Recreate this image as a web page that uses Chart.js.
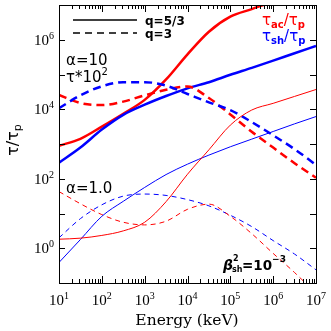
<!DOCTYPE html>
<html>
<head>
<meta charset="utf-8">
<script src="https://cdn.jsdelivr.net/npm/chart.js@4.4.1/dist/chart.umd.min.js"></script>
<style>
  html, body { margin: 0; padding: 0; background: #fff; }
</style>
</head>
<body>
<canvas id="chart" width="331" height="331"></canvas>
<script>
// energies in keV (half-decade grid)
const energy = [10, 31.6, 100, 316, 1000, 3160, 1e4, 3.16e4, 1e5, 3.16e5, 1e6, 3.16e6, 1e7];

// alpha = 10 (times 1e2)
const acc10Solid = [8.9e2, 1.41e3, 3.16e3, 7.4e3, 1.86e4, 7.2e4, 3.8e5, 1.7e6, 4.6e6, 7.6e6, 1.26e7, 2.0e7, 3.2e7];
const sh10Solid = [2.9e2, 7.9e2, 2.6e3, 6.9e3, 1.35e4, 2.4e4, 4.0e4, 6.0e4, 9.8e4, 1.55e5, 2.5e5, 4.1e5, 6.6e5];
const acc10Dash = [2.57e4, 1.51e4, 1.32e4, 1.66e4, 2.51e4, 3.63e4, 4.5e4, 2.1e4, 7.1e3, 2.24e3, 7.9e2, 2.8e2, 1.07e2];
const sh10Dash = [1.07e4, 2.51e4, 4.57e4, 6.03e4, 6.03e4, 4.79e4, 2.75e4, 1.58e4, 9.5e3, 4.27e3, 1.78e3, 7.1e2, 2.5e2];

// alpha = 1.0
const acc1Solid = [1.82, 1.95, 2.34, 3.16, 5.6, 21.9, 135, 680, 3500, 9500, 1.48e4, 2.34e4, 3.7e4];
const sh1Solid = [0.39, 1.78, 8.3, 22.4, 56.2, 132, 263, 479, 832, 1380, 2291, 3802, 6166];
const acc1Dash = [42.7, 19.1, 9.3, 5.6, 4.7, 6.0, 13.2, 18.6, 8.3, 2.63, 0.71, 0.2, 0.05];
const sh1Dash = [2.0, 7.1, 17.8, 31.6, 36.3, 33.1, 25.1, 16.6, 8.9, 4.2, 1.66, 0.68, 0.24];

const xTickPowers = [1, 2, 3, 4, 5, 6, 7];
const yTickPowers = [0, 2, 4, 6];

const RED = "#ff0000";
const BLUE = "#0000ff";

function series(values, color, width, dash) {
  return {
    data: energy.map((e, i) => ({ x: e, y: values[i] })),
    borderColor: color,
    borderWidth: width,
    borderDash: dash,
    pointRadius: 0,
    fill: false,
    clip: 0,
    cubicInterpolationMode: "monotone"
  };
}

// draw a run of text pieces left to right: [text, font, dy]
function drawRich(ctx, parts, x, y, align) {
  let w = 0;
  parts.forEach(p => { ctx.font = p[1]; w += ctx.measureText(p[0]).width; });
  let cx = x;
  if (align === "center") cx = x - w / 2;
  if (align === "right") cx = x - w;
  ctx.textAlign = "left";
  parts.forEach(p => {
    ctx.font = p[1];
    ctx.fillText(p[0], cx, y + (p[2] || 0));
    cx += ctx.measureText(p[0]).width;
  });
  return w;
}

const tickFont = '15px "Liberation Serif"';
const supFont = '10px "Liberation Serif"';

const framePlugin = {
  id: "frame",
  afterDraw(chart) {
    const ctx = chart.ctx;
    const a = chart.chartArea;
    const xs = chart.scales.x;
    const ys = chart.scales.y;
    ctx.save();
    ctx.strokeStyle = "#000";
    ctx.lineWidth = 1;
    ctx.setLineDash([]);
    ctx.strokeRect(Math.round(a.left) + 0.5, Math.round(a.top) + 0.5,
      Math.round(a.right - a.left), Math.round(a.bottom - a.top));

    // x ticks, major and minor, inside at bottom and top
    ctx.beginPath();
    for (let p = 1; p <= 7; p++) {
      for (let m = 1; m <= 9; m++) {
        if (p === 7 && m > 1) break;
        const px = Math.round(xs.getPixelForValue(m * Math.pow(10, p))) + 0.5;
        const len = m === 1 ? 7 : 4;
        ctx.moveTo(px, a.bottom); ctx.lineTo(px, a.bottom - len);
        ctx.moveTo(px, a.top); ctx.lineTo(px, a.top + len);
      }
    }
    // y ticks at each decade, left and right
    for (let p = -1; p <= 7; p++) {
      const py = Math.round(ys.getPixelForValue(Math.pow(10, p))) + 0.5;
      ctx.moveTo(a.left, py); ctx.lineTo(a.left + 6, py);
      ctx.moveTo(a.right, py); ctx.lineTo(a.right - 6, py);
    }
    ctx.stroke();

    ctx.fillStyle = "#000";
    ctx.textBaseline = "alphabetic";
    xTickPowers.forEach(p => {
      const px = xs.getPixelForValue(Math.pow(10, p));
      drawRich(ctx, [["10", tickFont, 0], [String(p), supFont, -6]], px, 305, "center");
    });
    yTickPowers.forEach(p => {
      const py = ys.getPixelForValue(Math.pow(10, p));
      drawRich(ctx, [["10", tickFont, 0], [String(p), supFont, -6]], 54, py + 5, "right");
    });

    // axis titles
    ctx.font = '15.5px "DejaVu Serif"';
    ctx.textAlign = "center";
    ctx.fillText("Energy (keV)", 187, 325);

    ctx.save();
    ctx.translate(18, 140);
    ctx.rotate(-Math.PI / 2);
    drawRich(ctx, [["τ/τ", '16px "DejaVu Sans"', 0], ["p", '11px "DejaVu Sans"', 3]], 0, 0, "center");
    ctx.restore();

    // legend for line styles
    ctx.lineWidth = 1.5;
    ctx.beginPath();
    ctx.moveTo(73, 20); ctx.lineTo(137, 20);
    ctx.stroke();
    ctx.setLineDash([7, 5]);
    ctx.beginPath();
    ctx.moveTo(73, 33); ctx.lineTo(137, 33);
    ctx.stroke();
    ctx.setLineDash([]);
    ctx.font = 'bold 12px "DejaVu Sans"';
    ctx.textAlign = "left";
    ctx.fillText("q=5/3", 145, 24.5);
    ctx.fillText("q=3", 145, 37.5);

    // annotations
    const big = '15px "DejaVu Sans"';
    drawRich(ctx, [["α=10", big, 0]], 66, 65, "left");
    drawRich(ctx, [["τ*10", big, 0], ["2", '10px "DejaVu Sans"', -7]], 66, 82, "left");
    drawRich(ctx, [["α=1.0", big, 0]], 66, 193, "left");

    const sub = 'bold 10px "DejaVu Sans"';
    ctx.fillStyle = RED;
    drawRich(ctx, [["τ", big, 0], ["ac", sub, 3], ["/τ", big, 0], ["p", sub, 3]], 262, 25, "left");
    ctx.fillStyle = BLUE;
    drawRich(ctx, [["τ", big, 0], ["sh", sub, 3], ["/τ", big, 0], ["p", sub, 3]], 262, 41, "left");

    // beta_sh^2 = 10^-3
    ctx.fillStyle = "#000";
    ctx.font = 'bold italic 14px "DejaVu Sans"';
    ctx.textAlign = "left";
    ctx.fillText("β", 223, 270);
    ctx.font = 'bold 8px "DejaVu Sans"';
    ctx.fillText("2", 233, 261);
    ctx.fillText("sh", 232, 272);
    drawRich(ctx, [["=10", 'bold 13.5px "DejaVu Sans"', 0], ["−3", 'bold 9px "DejaVu Sans"', -8]], 242, 270, "left");

    ctx.restore();
  }
};

new Chart(document.getElementById("chart"), {
  type: "line",
  data: {
    datasets: [
      series(acc1Solid, RED, 1, []),
      series(sh1Solid, BLUE, 1, []),
      series(acc1Dash, RED, 1, [5, 4]),
      series(sh1Dash, BLUE, 1, [5, 4]),
      series(sh10Dash, BLUE, 2.5, [8, 5]),
      series(acc10Dash, RED, 2.5, [8, 5]),
      series(sh10Solid, BLUE, 2.5, []),
      series(acc10Solid, RED, 2.5, [])
    ]
  },
  options: {
    responsive: false,
    animation: false,
    layout: { padding: { top: 5, right: 15, left: 0, bottom: 0 } },
    plugins: { legend: { display: false }, tooltip: { enabled: false } },
    scales: {
      x: {
        type: "logarithmic", min: 10, max: 1e7,
        grid: { display: false }, border: { display: false },
        ticks: { display: false },
        afterFit: s => { s.height = 48; }
      },
      y: {
        type: "logarithmic", min: 0.1, max: 1e7,
        grid: { display: false }, border: { display: false },
        ticks: { display: false },
        afterFit: s => { s.width = 59; }
      }
    }
  },
  plugins: [framePlugin]
});
</script>
</body>
</html>
